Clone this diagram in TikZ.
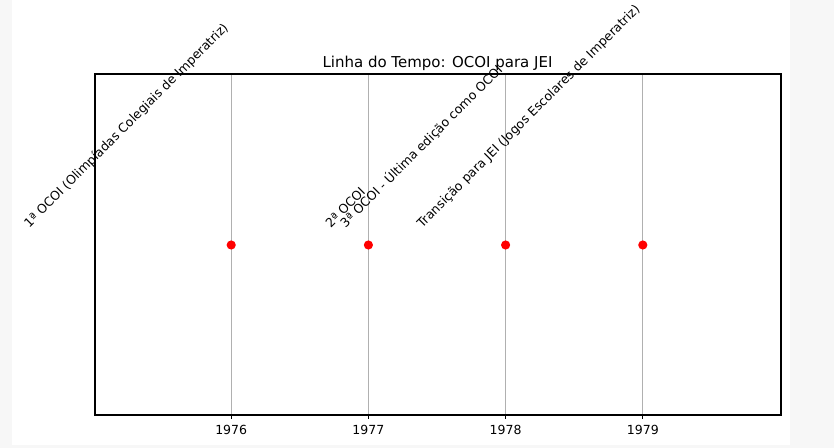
\documentclass[tikz,border=0pt]{standalone}
\usepackage{fontspec}
\setmainfont{DejaVu Sans}
\definecolor{bggray}{HTML}{F7F7F7}
\definecolor{gridgray}{HTML}{B0B0B0}
\definecolor{dotred}{HTML}{FF0000}
\newcommand\evfont{\fontsize{9bp}{11bp}\selectfont}
\newlength\evwa \newlength\evwb \newlength\evwc \newlength\evwd
\newcommand\evta{1ª OCOI (Olimpíadas Colegiais de Imperatriz)}
\newcommand\evtb{2ª OCOI}
\newcommand\evtc{3ª OCOI - Última edição como OCOI}
\newcommand\evtd{Transição para JEI (Jogos Escolares de Imperatriz)}
\AtBeginDocument{%
  \settowidth{\evwa}{\evfont\evta}%
  \settowidth{\evwb}{\evfont\evtb}%
  \settowidth{\evwc}{\evfont\evtc}%
  \settowidth{\evwd}{\evfont\evtd}}
\usetikzlibrary{calc}
% #1 name, #2 x in px, #3 width length, #4 text
\newcommand\evtlabel[4]{%
  \path let \p3=(#2,231) in
    node[evtstyle] (#1) at (\x3-0.7071#3,\y3) {#4};}
\tikzset{
  evtstyle/.style={font=\evfont, rotate=45, anchor=south west, inner sep=0pt, text depth=0.24em},
  gridline/.style={draw=gridgray, line width=0.8bp},
  spine/.style={draw=black, line width=0.8bp},
  dotmark/.style={circle, fill=dotred, inner sep=0pt, minimum size=6.6bp},
  ticklabel/.style={font=\evfont, anchor=north, inner sep=0pt},
}
\begin{document}
\begin{tikzpicture}[x=0.72bp, y=-0.72bp]
\useasboundingbox (0,0) rectangle (834,448);
\fill[bggray] (0,0) rectangle (834,448);
\fill[white] (12,0) rectangle (790,445);
% grid lines
\foreach \xx in {231.2,368.4,505.6,642.8}{
  \draw[gridline] (\xx,74) -- (\xx,415);
}
% axes
\draw[spine] (95,74) rectangle (781,415);
% ticks and labels
\foreach \xx/\yr in {231.2/1976,368.4/1977,505.6/1978,642.8/1979}{
  \draw[black, line width=0.8bp] (\xx,415) -- (\xx,419.5);
  \node[ticklabel] (t\yr) at (\xx,424.5) {\yr};
  \node[dotmark] (d\yr) at (\xx,245) {};
}
% title
\node[font=\fontsize{10.8bp}{13bp}\selectfont, anchor=base, inner sep=0pt] (title) at (437.5,68) {Linha do Tempo: OCOI para JEI};
% events
\evtlabel{e1}{231.2}{\evwa}{\evta}
\evtlabel{e2}{368.4}{\evwb}{\evtb}
\evtlabel{e3}{505.6}{\evwc}{\evtc}
\evtlabel{e4}{642.8}{\evwd}{\evtd}
\end{tikzpicture}
\end{document}
